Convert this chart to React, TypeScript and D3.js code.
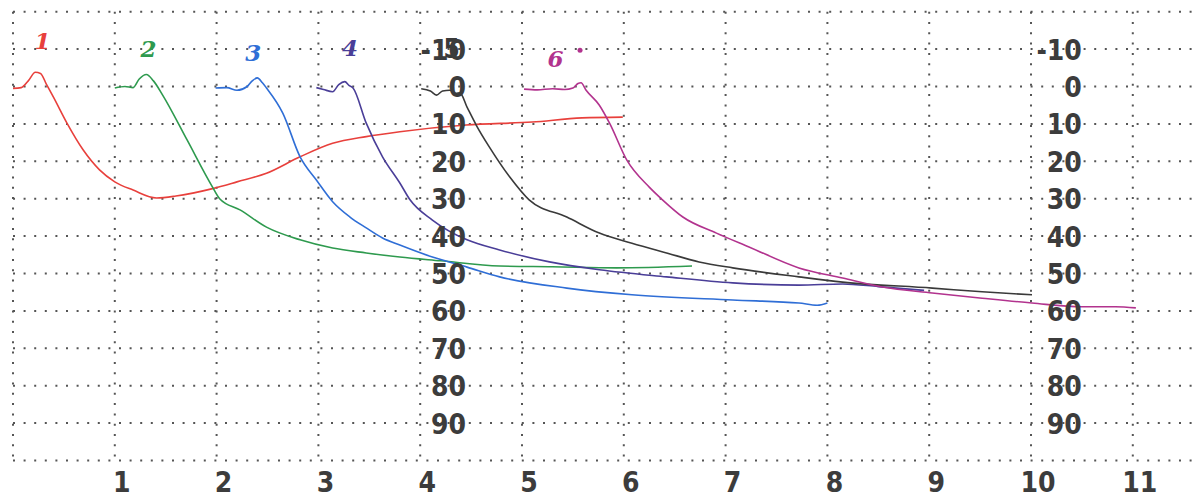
import React from "react";
import * as d3 from "d3";

const W = 1192;
const H = 498;

const xTicks = [1, 2, 3, 4, 5, 6, 7, 8, 9, 10, 11];
const xGrid = [0, 1, 2, 3, 4, 5, 6, 7, 8, 9, 10, 11];
const yGrid = [-20, -10, 0, 10, 20, 30, 40, 50, 60, 70, 80, 90, 100];
const yTickLabels = [-10, 0, 10, 20, 30, 40, 50, 60, 70, 80, 90];
const yLabelColumns = [4.45, 10.5];

type P = [number, number];

const series1: P[] = [[0,0.5],[0.08,0.3],[0.15,-1.5],[0.22,-3.8],[0.27,-3.5],[0.33,-0.5],[0.4,3],[0.53,9.8],[0.69,17],[0.85,22.3],[1.0,25.5],[1.18,27.7],[1.41,29.8],[1.6,29.3],[1.96,27.3],[2.2,25.5],[2.49,23.2],[2.82,18.8],[3.14,15.2],[3.47,13.4],[3.8,12.1],[4.45,10.3],[5.1,9.5],[5.59,8.4],[5.99,8.2]];
const series2: P[] = [[1.0,0.4],[1.1,0],[1.18,0.3],[1.24,-2],[1.31,-3.2],[1.38,-1.5],[1.47,2.3],[1.71,14.3],[1.96,26.9],[2.03,30],[2.23,33],[2.49,37.6],[2.82,41],[3.14,43.2],[3.47,44.5],[3.8,45.6],[4.2,46.6],[4.78,48],[5.3,48.2],[5.93,48.5],[6.67,48]];
const series3: P[] = [[1.99,0.4],[2.1,0.3],[2.2,1],[2.3,0],[2.35,-1.5],[2.4,-2.3],[2.45,-1],[2.49,0.4],[2.65,7.1],[2.82,18.8],[2.98,25],[3.14,30.8],[3.31,34.9],[3.47,37.8],[3.63,40.5],[3.8,42.4],[4.12,45.6],[4.46,48.3],[4.78,50.9],[5.44,53.9],[6.08,55.7],[7.07,57.1],[7.72,57.9],[7.9,58.5],[8.0,57.9]];
const series4: P[] = [[2.98,0.3],[3.05,0.8],[3.14,1.4],[3.2,-0.5],[3.26,-1.3],[3.3,-0.3],[3.34,0.4],[3.47,9.8],[3.63,18.8],[3.8,25.8],[3.9,30.3],[4.12,35.7],[4.46,41],[4.78,43.7],[5.27,46.9],[5.76,49],[6.42,50.9],[7.07,52.5],[7.72,53.1],[8.15,52.8],[8.5,53.5],[8.95,54.5]];
const series5: P[] = [[4.01,0.6],[4.1,1.2],[4.16,2.3],[4.22,1.2],[4.29,1],[4.35,1.8],[4.39,1.7],[4.46,5.5],[4.55,10.3],[4.68,16.2],[4.88,24.2],[5.07,30.3],[5.44,34.9],[5.76,39.2],[6.08,41.9],[6.42,44.5],[6.74,46.9],[7.07,48.5],[7.72,50.9],[8.15,52.3],[9.03,53.9],[9.52,54.9],[10.01,55.7]];
const series6: P[] = [[5.02,0.7],[5.15,0.9],[5.3,0.6],[5.42,0.8],[5.5,0.4],[5.55,-0.8],[5.58,-1],[5.63,1],[5.76,5],[5.86,9.8],[6.03,19.7],[6.25,26.9],[6.38,30.3],[6.58,34.9],[6.91,39.2],[7.23,42.9],[7.72,48.5],[8.15,51.2],[8.54,53.6],[9.03,55.2],[9.52,56.6],[10.01,57.9],[10.5,58.9],[10.83,58.9],[11.03,59.2]];

const seriesNames = ["1", "2", "3", "4", "5", "6"];
const seriesColors = ["#e8403c", "#2e9a4e", "#2f6ed6", "#4a3e98", "#3a3a3a", "#b2338e"];
const seriesData = [series1, series2, series3, series4, series5, series6];
// label anchor (x value, y value)
const labelPos: P[] = [[0.29, -12.3], [1.33, -10.2], [2.36, -9.2], [3.31, -10.4], [4.31, -10], [5.33, -7.6]];

const x = d3.scaleLinear().domain([0, 11]).range([13, 13 + 11 * 101.8]);
const y = d3.scaleLinear().domain([0, 100]).range([86.5, 460.5]);

export default function App() {
  const line = d3.line<P>().x((d) => x(d[0])).y((d) => y(d[1])).curve(d3.curveMonotoneX);
  const font = "'Liberation Sans Narrow', 'DejaVu Sans Condensed', sans-serif";
  return (
    <div style={{ position: "fixed", left: 0, top: 0, width: W, height: H, background: "#fff" }}>
      <svg width={W} height={H} style={{ display: "block" }}>
        <rect width={W} height={H} fill="#fff" />
        {yGrid.map((v) => (
          <line key={"h" + v} x1={x(0)} x2={W} y1={y(v)} y2={y(v)} stroke="#555" strokeWidth={2} strokeDasharray="2 8.6" />
        ))}
        {xGrid.map((v) => (
          <line key={"v" + v} x1={x(v)} x2={x(v)} y1={y(-20)} y2={y(100)} stroke="#555" strokeWidth={2} strokeDasharray="2 8.3" />
        ))}
        {seriesData.map((d, i) => (
          <path key={"s" + i} d={line(d) || ""} fill="none" stroke={seriesColors[i]} strokeWidth={1.6} strokeLinejoin="round" />
        ))}
        {seriesNames.map((n, i) => (
          <text key={"n" + i} x={x(labelPos[i][0])} y={y(labelPos[i][1])} fill={seriesColors[i]} fontFamily={i === 4 ? font : "'DejaVu Serif', serif"} fontWeight="bold" fontStyle={i === 4 ? "normal" : "italic"} fontSize={i === 4 ? 26 : 23} textAnchor="middle" dominantBaseline="central">
            {n}
          </text>
        ))}
        <circle cx={x(5.57)} cy={y(-9.7)} r={2.5} fill={seriesColors[5]} />
        {yLabelColumns.map((c) =>
          yTickLabels.map((v) => (
            <text key={"yl" + c + v} x={x(c)} y={y(v) + 1} fill="#3c3c3c" fontFamily={font} fontWeight="bold" fontSize={28} textAnchor="end" dominantBaseline="central">
              {v}
            </text>
          ))
        )}
        {xTicks.map((v) => (
          <text key={"xl" + v} x={x(v) + 7} y={482} fill="#3c3c3c" fontFamily={font} fontWeight="bold" fontSize={28} textAnchor="middle" dominantBaseline="central">
            {v}
          </text>
        ))}
      </svg>
    </div>
  );
}
